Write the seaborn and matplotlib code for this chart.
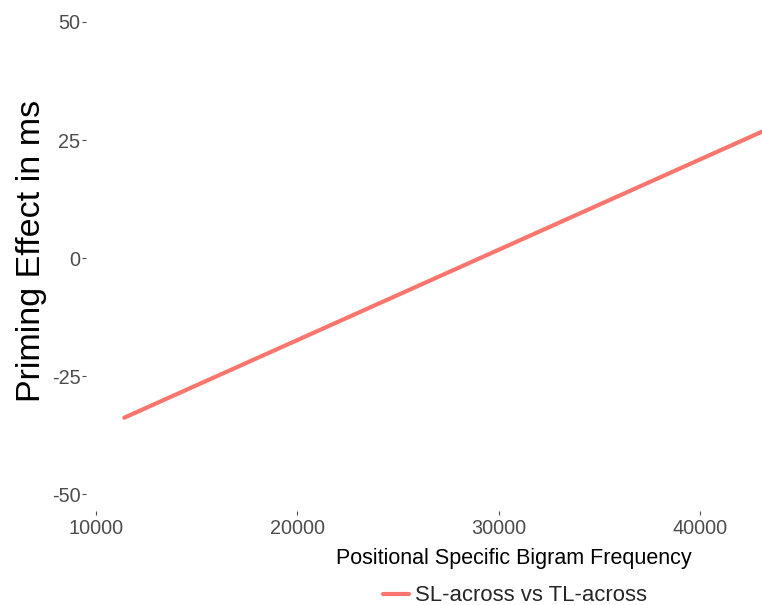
import pandas as pd
import seaborn as sns
import matplotlib.pyplot as plt

# Fitted line
bigram_freq = [11400, 43100]
priming_effect = [-33.8, 26.8]
contrast = ["SL-across vs TL-across", "SL-across vs TL-across"]

df = pd.DataFrame({"freq": bigram_freq, "effect": priming_effect, "contrast": contrast})

sns.set_theme(style="white")
plt.rcParams['font.family'] = ['Liberation Sans', 'DejaVu Sans']
plt.rcParams['axes.unicode_minus'] = False

fig = plt.figure(figsize=(7.62, 6.05), dpi=100)
ax = fig.add_axes([86 / 762, (605 - 515) / 605, 1 - 86 / 762, 515 / 605])

sns.lineplot(data=df, x="freq", y="effect", hue="contrast",
             palette=["#F8766D"], linewidth=3, ax=ax)

ax.set_xlim(9500, 43085)
ax.set_ylim(-54.4, 54.65)
ax.set_xticks([10000, 20000, 30000, 40000])
ax.set_yticks([-50, -25, 0, 25, 50])
for s in ax.spines.values():
    s.set_visible(False)
ax.tick_params(axis="both", which="both", length=3, width=0.8, color="#4d4d4d",
               labelcolor="#4d4d4d", labelsize=14.3, pad=1)
ax.tick_params(axis="x", direction="in", pad=3)
ax.tick_params(axis="y", left=True, bottom=False)
ax.tick_params(axis="x", bottom=True)

ax.set_ylabel("Priming Effect in ms", fontsize=24.5, color="black")
ax.yaxis.set_label_coords(-0.057, 0.513)
ax.set_xlabel("Positional Specific Bigram Frequency", fontsize=15.5, color="black")
ax.xaxis.set_label_coords(0.633, -0.065)

sns.move_legend(ax, "center", bbox_to_anchor=(0.635, -0.157), frameon=False,
                title=None, fontsize=15.9, handlelength=1.15, handletextpad=0.3)

fig.savefig("out.png", dpi=100)
